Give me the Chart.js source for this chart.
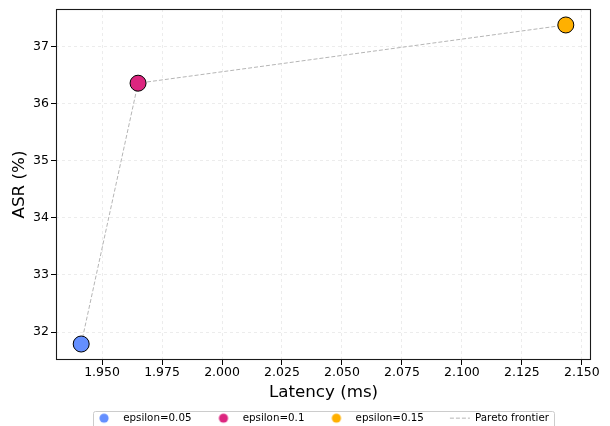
<!DOCTYPE html>
<html>
<head>
<meta charset="utf-8">
<script src="https://cdn.jsdelivr.net/npm/chart.js@4"></script>
<style>
  html, body { margin: 0; padding: 0; background: #fff; overflow: hidden; }
  #wrap { width: 610px; height: 426px; }
</style>
</head>
<body>
<div id="wrap"><canvas id="grafico" width="610" height="426"></canvas></div>
<script>
// Valores
const etiquetas = ['epsilon=0.05', 'epsilon=0.1', 'epsilon=0.15'];
const cores = ['#648FFF', '#DC267F', '#FFB000'];
const latencia = [1.9413, 1.9650, 2.1433];
const asr = [31.79, 36.36, 37.38];
const ticksX = [1.950, 1.975, 2.000, 2.025, 2.050, 2.075, 2.100, 2.125, 2.150];
const ticksY = [32, 33, 34, 35, 36, 37];
const limitesX = [1.9308, 2.1538];
const limitesY = [31.51, 37.66];

Chart.defaults.font.family = "'DejaVu Sans', sans-serif";
Chart.defaults.color = '#000';

// bolinha da legenda (sem contorno), com folga à direita
function bolinha(cor) {
  const c = document.createElement('canvas');
  c.width = 20; c.height = 12;
  const g = c.getContext('2d');
  g.fillStyle = cor;
  g.beginPath();
  g.arc(6, 6, 4.6, 0, Math.PI * 2);
  g.fill();
  return c;
}

const datasets = etiquetas.map((nome, i) => ({
  label: nome,
  data: [{ x: latencia[i], y: asr[i] }],
  backgroundColor: cores[i],
  borderColor: '#000',
  borderWidth: 1,
  pointRadius: 8,
  pointHoverRadius: 8,
  order: 1
}));

// fronteira de Pareto ordenada pela latência
const fronteira = latencia.map((x, i) => ({ x: x, y: asr[i] })).sort((a, b) => a.x - b.x);
datasets.push({
  type: 'line',
  label: 'Pareto frontier',
  data: fronteira,
  borderColor: '#b5b5b5',
  backgroundColor: '#b5b5b5',
  borderWidth: 1,
  borderDash: [4, 2],
  pointRadius: 0,
  fill: false,
  order: 5
});

const molduraPlugin = {
  id: 'moldura',
  afterLayout(chart) {
    // centra a legenda sob a área do gráfico e desce-a
    const lg = chart.legend, ca = chart.chartArea;
    const dx = (ca.left + ca.right) / 2 - (lg.left + lg.right) / 2;
    lg.left += dx; lg.right += dx;
    lg.top = 387; lg.bottom = 440;
  },
  afterDraw(chart) {
    const ctx = chart.ctx, ca = chart.chartArea;
    ctx.save();
    ctx.strokeStyle = '#1a1a1a';
    ctx.lineWidth = 1.1;
    ctx.strokeRect(Math.round(ca.left) + 0.5, Math.round(ca.top) + 0.5,
      Math.round(ca.right - ca.left) - 1, Math.round(ca.bottom - ca.top) - 1);
    // caixa da legenda
    const hb = chart.legend.legendHitBoxes;
    if (hb && hb.length) {
      const x0 = hb[0].left - 5;
      const ult = hb[hb.length - 1];
      const x1 = ult.left + ult.width + 5;
      ctx.strokeStyle = '#cccccc';
      ctx.lineWidth = 1;
      ctx.beginPath();
      ctx.roundRect(Math.round(x0) + 0.5, 411.5, Math.round(x1 - x0), 30, 2);
      ctx.stroke();
    }
    ctx.restore();
  }
};

new Chart(document.getElementById('grafico').getContext('2d'), {
  type: 'scatter',
  data: { datasets: datasets },
  options: {
    responsive: false,
    animation: false,
    events: [],
    layout: { padding: { top: 6, right: 19, left: 0, bottom: 0 } },
    plugins: {
      tooltip: { enabled: false },
      legend: {
        position: 'bottom',
        maxHeight: 20,
        labels: {
          usePointStyle: true,
          pointStyleWidth: 20,
          boxHeight: 8,
          padding: 26,
          font: { size: 10.3 },
          color: '#000',
          generateLabels(chart) {
            return chart.data.datasets.map((ds, i) => ({
              text: ds.label,
              datasetIndex: i,
              fillStyle: ds.backgroundColor,
              strokeStyle: ds.type === 'line' ? ds.borderColor : ds.backgroundColor,
              lineWidth: 1,
              lineDash: ds.borderDash || [],
              pointStyle: ds.type === 'line' ? 'line' : bolinha(ds.backgroundColor),
              hidden: false
            }));
          }
        }
      }
    },
    scales: {
      x: {
        type: 'linear',
        min: limitesX[0],
        max: limitesX[1],
        afterBuildTicks: s => { s.ticks = ticksX.map(v => ({ value: v })); },
        afterFit: s => { s.height = 46; s.paddingLeft = 0; s.paddingRight = 0; },
        ticks: {
          callback: v => Number(v).toFixed(3),
          font: { size: 12.5 },
          padding: 0,
          maxRotation: 0,
          autoSkip: false
        },
        grid: {
          color: '#ececec',
          lineWidth: 1,
          tickLength: 5,
          tickColor: '#000',
          tickBorderDash: []
        },
        border: { display: false, dash: [3, 3] },
        title: { display: true, text: 'Latency (ms)', font: { size: 16.7 }, padding: { top: 0, bottom: 3 } }
      },
      y: {
        type: 'linear',
        min: limitesY[0],
        max: limitesY[1],
        afterBuildTicks: s => { s.ticks = ticksY.map(v => ({ value: v })); },
        afterFit: s => { s.width = 56; s.paddingTop = 0; s.paddingBottom = 0; },
        ticks: {
          callback: v => String(Math.round(v)),
          font: { size: 12.5 },
          padding: 2,
          autoSkip: false
        },
        grid: {
          color: '#ececec',
          lineWidth: 1,
          tickLength: 5,
          tickColor: '#000',
          tickBorderDash: []
        },
        border: { display: false, dash: [3, 3] },
        title: { display: true, text: 'ASR (%)', font: { size: 16.7 }, padding: { top: 10, bottom: 0 } }
      }
    }
  },
  plugins: [molduraPlugin]
});
</script>
</body>
</html>
